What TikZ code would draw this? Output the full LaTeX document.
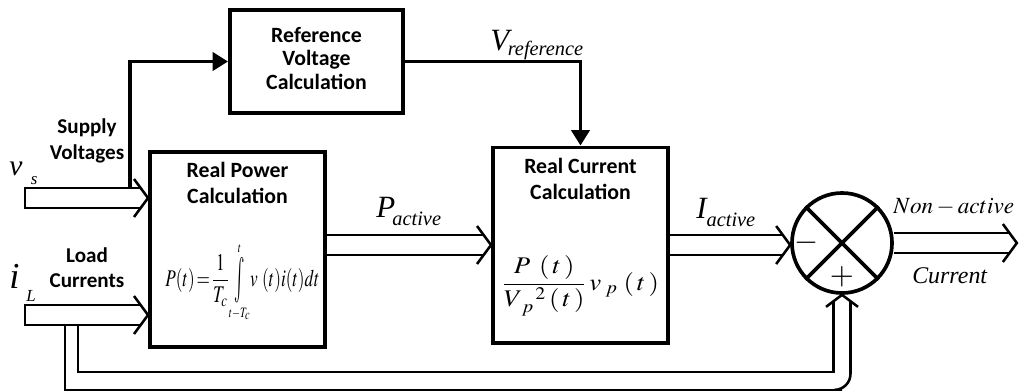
\documentclass[tikz,border=0pt]{standalone}
\usepackage{mathptmx}
\usepackage[no-math]{fontspec}
\setmainfont{Liberation Serif}
\setsansfont{Carlito}
\usetikzlibrary{arrows.meta,positioning,calc}

\tikzset{
  block/.style={draw,line width=2.8pt,minimum width=4.375cm,minimum height=4.875cm,inner sep=0pt},
  title/.style={font=\sffamily\bfseries\fontsize{15.5}{18.5}\selectfont,align=center,inner sep=0pt},
  side/.style={font=\sffamily\bfseries\fontsize{15}{18}\selectfont,align=center,inner sep=0pt},
  lbl/.style={font=\fontsize{22}{26}\selectfont,inner sep=0pt,anchor=base west},
  eqn/.style={font=\fontsize{17}{20}\selectfont,inner sep=0pt},
  sym/.style={font=\fontsize{22}{26}\selectfont,inner sep=0pt},
  sig/.style={line width=2.5pt,-{Triangle[length=11pt,width=13pt]}},
  hollow/.style={line width=1.8pt,line join=miter}
}
% italic symbol with a lowered italic index
\newcommand{\sublbl}[4][14.5]{{\itshape #2}\raisebox{#4}{\fontsize{#1}{17}\selectfont\itshape #3}}
% tall integral sign with small limits
\newcommand{\tallint}[2]{\mathop{\vcenter{\hbox{\scalebox{1}[1.9]{$\int$}}}}\limits_{\scriptscriptstyle #1}^{\scriptscriptstyle #2}}
% open hollow arrow, shaft from #1 to tip #2 (pointing right)
\newcommand{\hollowarrow}[2]{%
  \draw[hollow] ($(#1)+(0,-10)$) -- ($(#2)+(-7,-10)$);
  \draw[hollow] ($(#1)+(0,10)$) -- ($(#2)+(-7,10)$);
  \draw[hollow] ($(#2)+(-14,-19)$) -- (#2) -- ($(#2)+(-14,19)$);
}
% same, closed at the tail
\newcommand{\inputarrow}[2]{%
  \draw[hollow] ($(#2)+(-7,-10)$) -- ($(#1)+(0,-10)$) -- ($(#1)+(0,10)$) -- ($(#2)+(-7,10)$);
  \draw[hollow] ($(#2)+(-14,-19)$) -- (#2) -- ($(#2)+(-14,19)$);
}

\begin{document}
\begin{tikzpicture}[x=0.025cm,y=-0.025cm]
\useasboundingbox (0,0) rectangle (1024,390);

% blocks
\node[block,minimum width=4.325cm,minimum height=2.575cm] (refv) at (316.5,61.5) {};
\node[title,font=\sffamily\bfseries\fontsize{15.5}{17}\selectfont] (refvtxt) at ($(refv)+(0,-3)$) {Reference\\Voltage\\Calculation};
\node[block] (power) at (237.5,249.5) {};
\node[title,below=0.3cm of power.north] (powertxt) {Real Power\\Calculation};
\node[eqn] (powereq) at ($(power.center)+(5,33)$) {\scalebox{0.72}[1]{$P(t)\!=\!\displaystyle\frac{1}{T_c}\!\tallint{t-T_c}{t}\! v\ (t)i(t)dt$}};
\node[block] (current) at (580.5,245) {};
\node[title,below=0.3cm of current.north] (currenttxt) {Real Current\\Calculation};
\node[eqn] (currenteq) at ($(current.center)+(0,41)$) {\scalebox{1.12}[1]{$\displaystyle\frac{P\;\,(\,t\,)}{V_{\;p}^{\;\;\;2}\,(\,t\,)}\,v_{\;p}\;(\,t\,)$}};

% summing junction
\node[draw,circle,line width=2.6pt,minimum size=2.5cm,inner sep=0pt] (sum) at (842,243) {};
\draw[line width=2.6pt] (sum.north west) -- (sum.south east);
\draw[line width=2.6pt] (sum.north east) -- (sum.south west);
\node[sym] (minus) at ($(sum.center)+(-35,0)$) {$-$};
\node[sym] (plus) at ($(sum.center)+(0,34)$) {$+$};

% inputs
\coordinate (vsin) at (25,198);
\coordinate (ilin) at (25,315);
\coordinate (vstip) at (power.west |- vsin);
\coordinate (iltip) at (power.west |- ilin);
\inputarrow{vsin}{vstip}
\inputarrow{ilin}{iltip}
\node[side] (supply) at (87,141) {Supply\\Voltages};
\node[side] (load) at (87,268) {Load\\Currents};
\node[lbl,font=\fontsize{21}{25}\selectfont] (vs) at (9,175) {\sublbl[12]{v\hspace{6pt}}{s}{-7pt}};
\node[lbl,font=\fontsize{26}{30}\selectfont] (il) at (9,288) {\sublbl[12]{i\hspace{5pt}}{L}{-9.5pt}};

% reference path
\draw[sig] ($(vsin)+(105,-10)$) |- (refv.west);
\draw[sig] (refv.east) -| (current.north);
\node[lbl] (vref) at (490,50) {\sublbl{V\kern-1pt}{reference}{-4pt}};

% main path
\coordinate (pstart) at (power.east |- current.west);
\hollowarrow{pstart}{current.west}
\node[lbl] (pact) at (376,217) {\sublbl{P\kern-2pt}{active}{-6pt}};
\coordinate (itip) at (sum.west |- current.east);
\hollowarrow{current.east}{itip}
\node[lbl] (iact) at (696,218) {\sublbl{I}{active}{-6pt}};
\coordinate (outtip) at ($(sum.east)+(123,0)$);
\hollowarrow{sum.east}{outtip}
\node[lbl,font=\fontsize{16.5}{19}\selectfont] (nonact) at (893,213) {$Non-active$};
\node[lbl,font=\fontsize{17}{20}\selectfont\itshape] (curr) at (912,283) {Current};

% load current feedback
\coordinate (fbtip) at (sum.south);
\draw[hollow] ($(ilin)+(40,10)$) |- ($(fbtip)+(0,95)$);
\draw[hollow,rounded corners=4mm] ($(fbtip)+(0,95)$) -| ($(fbtip)+(8.5,6.4)$);
\draw[hollow] ($(ilin)+(53,10)$) |- ($(fbtip)+(-8.5,77)$) -- ($(fbtip)+(-8.5,6.4)$);
\draw[hollow] ($(fbtip)+(-16,12)$) -- (fbtip) -- ($(fbtip)+(16,12)$);
\end{tikzpicture}
\end{document}
